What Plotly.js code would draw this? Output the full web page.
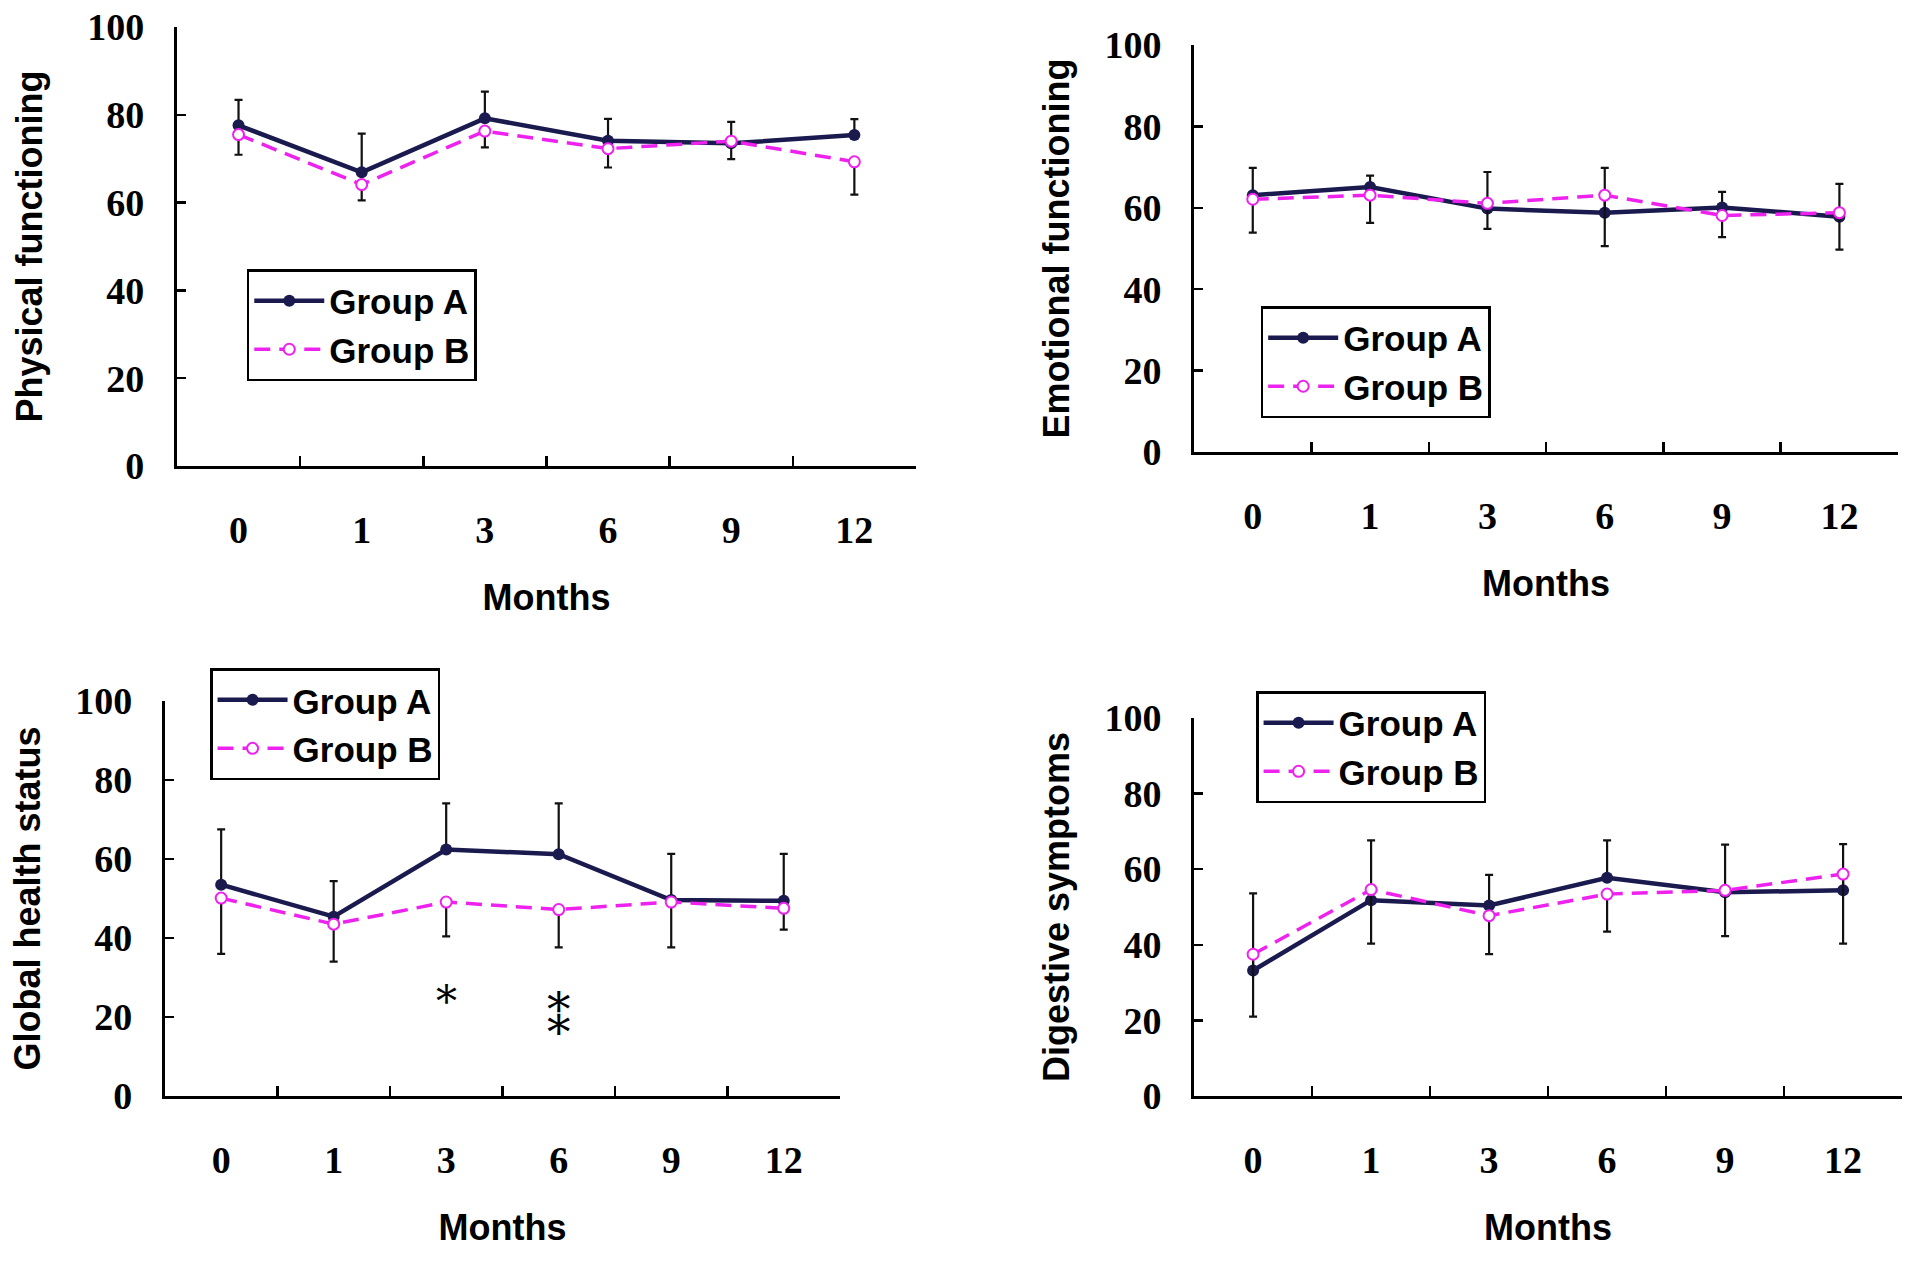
<!DOCTYPE html>
<html>
<head>
<meta charset="utf-8">
<script src="https://cdn.plot.ly/plotly-3.0.1.min.js"></script>
<style>html,body{margin:0;padding:0;background:#fff}#chart{width:1913px;height:1275px}</style>
</head>
<body>
<div id="chart"></div>
<script>
// Categories (months)
const months = ['0', '1', '3', '6', '9', '12'];

// Physical functioning
const physA = [77.6, 66.9, 79.2, 74.1, 73.5, 75.4];
const physAErrUp = [5.8, 8.8, 6.1, 5.0, 4.9, 3.6];
const physB = [75.5, 64.1, 76.3, 72.3, 74.0, 69.3];
const physBErrDown = [4.6, 3.6, 3.7, 4.3, 4.1, 7.5];

// Emotional functioning
const emoA = [63.1, 65.1, 59.8, 58.8, 60.1, 57.8];
const emoAErrUp = [6.7, 2.8, 9.0, 11.0, 3.8, 8.1];
const emoB = [62.1, 63.1, 61.1, 63.1, 58.1, 58.8];
const emoBErrDown = [8.2, 6.8, 6.3, 12.5, 5.3, 9.1];

// Global health status
const globA = [53.5, 45.4, 62.4, 61.2, 49.6, 49.4];
const globAErrUp = [14.0, 9.0, 11.7, 12.9, 11.7, 11.9];
const globB = [50.1, 43.5, 49.1, 47.2, 49.1, 47.5];
const globBErrDown = [14.1, 9.5, 8.7, 9.6, 11.5, 5.4];

// Digestive symptoms
const digA = [33.2, 51.8, 50.4, 57.7, 53.9, 54.4];
const digAErrUp = [20.4, 15.8, 8.1, 9.9, 12.6, 12.2];
const digB = [37.5, 54.6, 47.7, 53.4, 54.4, 58.7];
const digBErrDown = [16.5, 14.3, 10.2, 9.9, 12.1, 18.4];

// Panel titles
const yTitles = ['Physical functioning', 'Emotional functioning', 'Global health status', 'Digestive symptoms'];
const xTitle = 'Months';
const seriesNames = ['Group A', 'Group B'];

// Significance markers (Global health status): * at 3 months, ** (stacked) at 6 months
const sigMonths = ['3', '6'];
const sigText = ['*', '\u2051'];
const sigY = [24.0, 19.5];

const navy = '#1a1a4f';
const magenta = '#ee22ee';
const zeros = [0, 0, 0, 0, 0, 0];

const panels = [
  {a: physA, aUp: physAErrUp, b: physB, bDn: physBErrDown},
  {a: emoA, aUp: emoAErrUp, b: emoB, bDn: emoBErrDown},
  {a: globA, aUp: globAErrUp, b: globB, bDn: globBErrDown},
  {a: digA, aUp: digAErrUp, b: digB, bDn: digBErrDown}
];

const traces = [];
panels.forEach((p, i) => {
  const n = i + 1;
  const xa = n === 1 ? 'x' : 'x' + n;
  const ya = n === 1 ? 'y' : 'y' + n;
  const leg = n === 1 ? 'legend' : 'legend' + n;
  traces.push({
    x: months, y: p.a, xaxis: xa, yaxis: ya, type: 'scatter', mode: 'lines+markers',
    name: seriesNames[0], legend: leg, legendgroup: 'a' + n,
    line: {color: navy, width: 4.5},
    marker: {color: navy, size: 12, symbol: 'circle'},
    error_y: {type: 'data', symmetric: false, array: p.aUp, arrayminus: zeros, color: '#111', thickness: 2.2, width: 4}
  });
  traces.push({
    x: months, y: p.b, xaxis: xa, yaxis: ya, type: 'scatter', mode: 'lines+markers',
    name: seriesNames[1], legend: leg, legendgroup: 'b' + n,
    line: {color: magenta, width: 3.5, dash: '16px,9px'},
    marker: {color: '#ffffff', size: 11, symbol: 'circle', line: {color: magenta, width: 2}},
    error_y: {type: 'data', symmetric: false, array: zeros, arrayminus: p.bDn, color: '#111', thickness: 2.2, width: 4}
  });
});

const serif = 'Liberation Serif, Times New Roman, serif';
const sans = 'Liberation Sans, Arial, sans-serif';

function xAxis(domain, anchor) {
  return {
    domain: domain, anchor: anchor, type: 'category', range: [-0.5, 5.5],
    tickson: 'boundaries', ticks: 'inside', ticklen: 10, tickwidth: 2.5, tickcolor: '#000',
    showline: true, linecolor: '#000', linewidth: 3, showgrid: false, zeroline: false,
    tickfont: {family: serif, size: 38, color: '#000', weight: 'bold'},
    ticklabelstandoff: 28, automargin: false, fixedrange: true,
    title: {text: xTitle, font: {family: sans, size: 36, color: '#000', weight: 'bold'}, standoff: 36}
  };
}
function yAxis(domain, anchor, title, standoff) {
  return {
    domain: domain, anchor: anchor, range: [0, 100], tickvals: [0, 20, 40, 60, 80, 100],
    ticks: 'inside', ticklen: 9, tickwidth: 2.5, tickcolor: '#000',
    showline: true, linecolor: '#000', linewidth: 3, showgrid: false, zeroline: false,
    tickfont: {family: serif, size: 38, color: '#000', weight: 'bold'},
    ticklabelstandoff: 22, automargin: false, fixedrange: true,
    title: {text: title, font: {family: sans, size: 36, color: '#000', weight: 'bold'}, standoff: standoff}
  };
}
function legendCfg(x, y) {
  return {
    x: x, y: y, xanchor: 'left', yanchor: 'top', xref: 'paper', yref: 'paper',
    bgcolor: '#ffffff', bordercolor: '#000', borderwidth: 2.5,
    font: {family: sans, size: 35, color: '#000', weight: 'bold'},
    tracegroupgap: 20, itemwidth: 70, traceorder: 'normal'
  };
}

const annotations = sigMonths.map((m, i) => ({
  x: months.indexOf(m), y: sigY[i], xref: 'x3', yref: 'y3', text: sigText[i], showarrow: false,
  font: {family: 'DejaVu Serif, serif', size: i === 0 ? 42 : 47, color: '#000'},
  xanchor: 'center', yanchor: 'middle'
}));

const layout = {
  width: 1913, height: 1275,
  margin: {l: 0, r: 0, t: 0, b: 0},
  paper_bgcolor: '#ffffff', plot_bgcolor: 'rgba(0,0,0,0)',
  showlegend: true,
  xaxis: xAxis([0.0925, 0.4788], 'y'),
  yaxis: yAxis([0.6345, 0.9788], 'x', yTitles[0], 34),
  xaxis2: xAxis([0.6242, 0.9922], 'y2'),
  yaxis2: yAxis([0.6455, 0.9647], 'x2', yTitles[1], 24),
  xaxis3: xAxis([0.0862, 0.4391], 'y3'),
  yaxis3: yAxis([0.1404, 0.4502], 'x3', yTitles[2], 24),
  xaxis4: xAxis([0.6242, 0.9943], 'y4'),
  yaxis4: yAxis([0.1404, 0.4369], 'x4', yTitles[3], 24),
  legend: legendCfg(0.129, 0.789),
  legend2: legendCfg(0.659, 0.760),
  legend3: legendCfg(0.1098, 0.476),
  legend4: legendCfg(0.6566, 0.458),
  annotations: annotations
};

Plotly.newPlot('chart', traces, layout, {displayModeBar: false, staticPlot: true});
</script>
</body>
</html>
